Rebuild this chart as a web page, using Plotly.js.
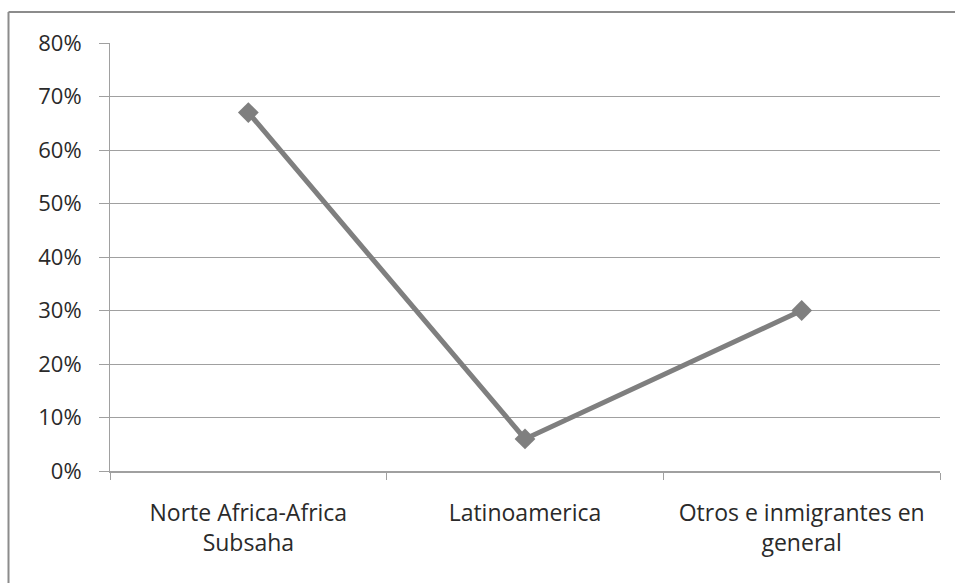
<!DOCTYPE html>
<html>
<head>
<meta charset="utf-8">
<script src="https://cdn.plot.ly/plotly-3.0.1.min.js"></script>
<style>
html,body{margin:0;padding:0;background:#fff;}
#chart{width:955px;height:583px;}
</style>
</head>
<body>
<div id="chart"></div>
<script>
const categories = ["Norte Africa-Africa<br>Subsaha", "Latinoamerica", "Otros e inmigrantes en<br>general"];
const values = [0.67, 0.06, 0.30];
const yTickValues = [0, 0.1, 0.2, 0.3, 0.4, 0.5, 0.6, 0.7, 0.8];
const yTickLabels = ["0%", "10%", "20%", "30%", "40%", "50%", "60%", "70%", "80%"];

const W = 955, H = 583;
const M = {l: 110, r: 15, t: 43, b: 112};
const pw = W - M.l - M.r, ph = H - M.t - M.b;
const px = x => (x - M.l) / pw;
const py = y => (H - M.b - y) / ph;

const trace = {
  x: categories,
  y: values,
  type: "scatter",
  mode: "lines+markers",
  line: {color: "#7f7f7f", width: 5},
  marker: {symbol: "diamond", size: 16, color: "#7f7f7f"},
  hoverinfo: "skip"
};

const layout = {
  width: W, height: H,
  margin: M,
  paper_bgcolor: "#ffffff",
  plot_bgcolor: "#ffffff",
  showlegend: false,
  font: {family: "'Open Sans', 'Noto Sans', sans-serif", size: 23, color: "#2a2a2a"},
  xaxis: {
    type: "category",
    tickson: "boundaries",
    ticks: "outside",
    ticklen: 7,
    tickwidth: 1,
    tickcolor: "#a0a0a0",
    showline: true,
    linecolor: "#a0a0a0",
    linewidth: 2,
    showgrid: false,
    zeroline: false,
    range: [-0.5, 2.5],
    ticklabelstandoff: 20,
    tickfont: {size: 23}
  },
  yaxis: {
    range: [0, 0.8],
    tickvals: yTickValues,
    ticktext: yTickLabels,
    ticks: "outside",
    ticklen: 10,
    tickcolor: "#a0a0a0",
    showline: true,
    linecolor: "#a0a0a0",
    linewidth: 1,
    gridcolor: "#a0a0a0",
    gridwidth: 1,
    zeroline: false,
    ticklabelstandoff: 13,
    tickfont: {size: 22}
  },
  shapes: [
    {type: "line", xref: "paper", yref: "paper", x0: px(8.5), x1: px(955), y0: py(12), y1: py(12), line: {color: "#8c8c8c", width: 2}},
    {type: "line", xref: "paper", yref: "paper", x0: px(8.5), x1: px(8.5), y0: py(12), y1: py(583), line: {color: "#8c8c8c", width: 2}}
  ]
};

Plotly.newPlot("chart", [trace], layout, {displayModeBar: false, staticPlot: true});
</script>
</body>
</html>
